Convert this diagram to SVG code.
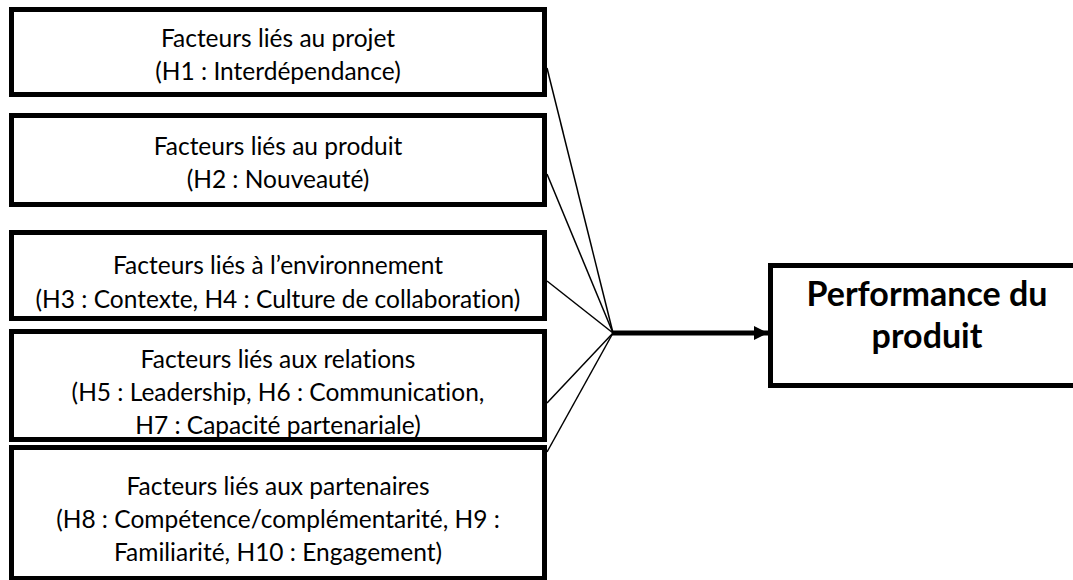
<svg xmlns="http://www.w3.org/2000/svg" width="1073" height="580" viewBox="0 0 1073 580">
<style>
.box{fill:#fff;stroke:#000;stroke-width:5}
.t{font-family:Lato,"Liberation Sans",Arial,sans-serif;font-size:24.5px;fill:#000;text-anchor:middle;font-variant-ligatures:none}
.tb{font-family:Lato,"Liberation Sans",Arial,sans-serif;font-size:34px;font-weight:bold;fill:#000;text-anchor:middle;font-variant-ligatures:none}
.c{stroke:#000;stroke-width:1.5;fill:none}
</style>
<defs>
<clipPath id="clip3"><rect x="14" y="235" width="528" height="82"/></clipPath>
<clipPath id="clip4"><rect x="14" y="334" width="528" height="104"/></clipPath>
<marker id="ah" markerUnits="userSpaceOnUse" markerWidth="16" markerHeight="16" refX="14" refY="7" orient="auto">
<path d="M0,0 L14,7 L0,14 Z" fill="#000"/>
</marker>
</defs>
<rect width="1073" height="580" fill="#fff"/>
<g id="connectors">
<line class="c" x1="547" y1="68" x2="613" y2="333"/>
<line class="c" x1="547" y1="174" x2="613" y2="333"/>
<line class="c" x1="547" y1="281" x2="613" y2="333"/>
<line class="c" x1="547" y1="403" x2="613" y2="333"/>
<line class="c" x1="547" y1="452" x2="613" y2="333"/>
<line x1="612" y1="333" x2="768" y2="333" stroke="#000" stroke-width="5" marker-end="url(#ah)"/>
</g>
<g id="n1">
<rect class="box" x="11.5" y="9.5" width="533" height="85"/>
<text class="t" x="278" y="47">Facteurs liés au projet</text>
<text class="t" x="278" y="80">(H1 : Interdépendance)</text>
</g>
<g id="n2">
<rect class="box" x="11.5" y="115.5" width="533" height="89"/>
<text class="t" x="278" y="155">Facteurs liés au produit</text>
<text class="t" x="278" y="188">(H2 : Nouveauté)</text>
</g>
<g id="n3">
<rect class="box" x="11.5" y="232.5" width="533" height="86"/>
<g clip-path="url(#clip3)">
<text class="t" x="278" y="274">Facteurs liés à l’environnement</text>
<text class="t" x="278" y="308">(H3 : Contexte, H4 : Culture de collaboration)</text>
</g>
</g>
<g id="n4">
<rect class="box" x="11.5" y="331.5" width="533" height="108"/>
<g clip-path="url(#clip4)">
<text class="t" x="278" y="368">Facteurs liés aux relations</text>
<text class="t" x="278" y="401">(H5 : Leadership, H6 : Communication,</text>
<text class="t" x="278" y="434">H7 : Capacité partenariale)</text>
</g>
</g>
<g id="n5">
<rect class="box" x="11.5" y="447.5" width="533" height="131"/>
<text class="t" x="278" y="495">Facteurs liés aux partenaires</text>
<text class="t" x="278" y="528">(H8 : Compétence/complémentarité, H9 :</text>
<text class="t" x="278" y="561">Familiarité, H10 : Engagement)</text>
</g>
<g id="n6">
<rect class="box" x="770.5" y="265.5" width="320" height="120"/>
<text class="tb" x="927" y="306">Performance du</text>
<text class="tb" x="927" y="348">produit</text>
</g>
</svg>
